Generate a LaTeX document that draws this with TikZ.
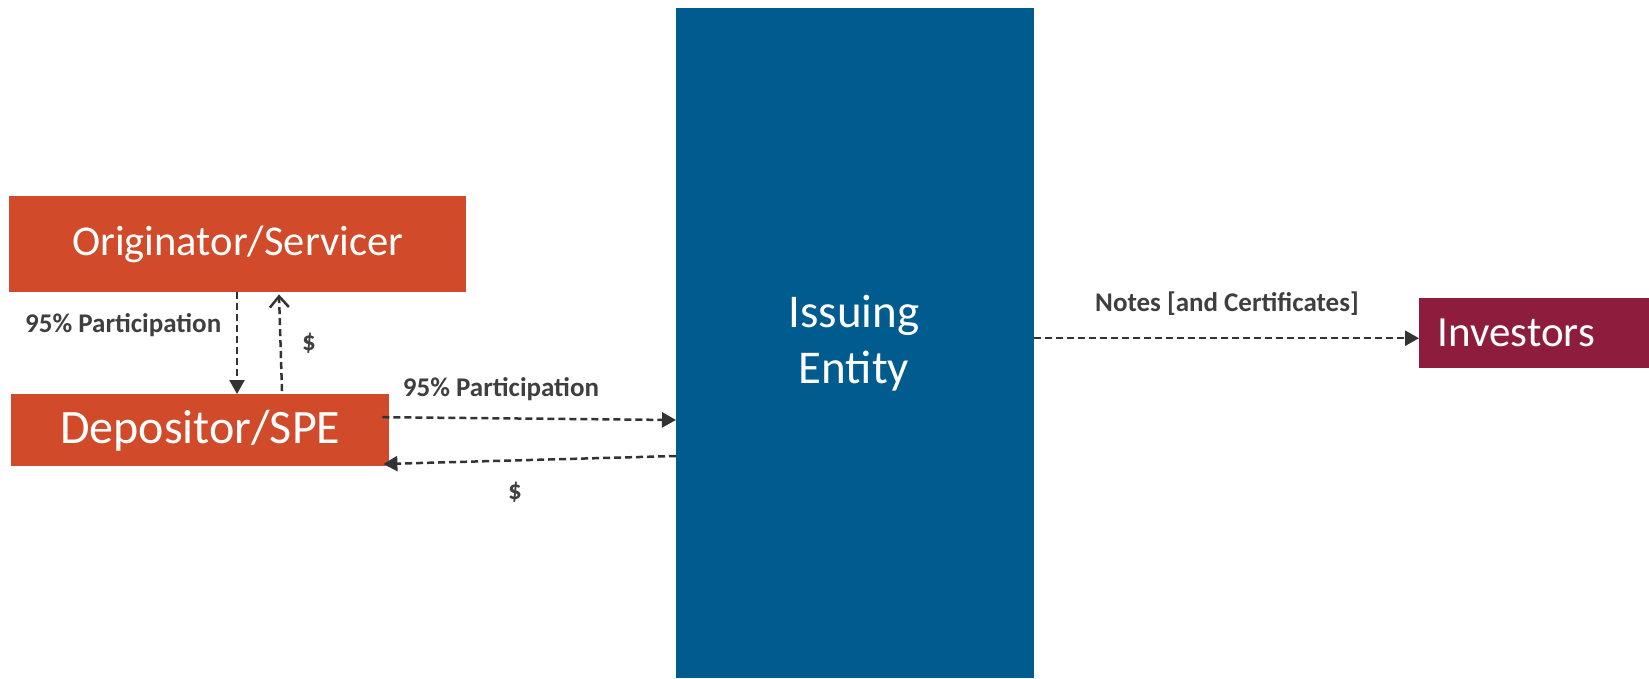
\documentclass[tikz,border=0pt]{standalone}
\usepackage{fontspec}
\setmainfont{Carlito}
\usetikzlibrary{arrows.meta,calc}
\definecolor{origc}{HTML}{D14A2A}
\definecolor{issuec}{HTML}{005B8F}
\definecolor{invc}{HTML}{8E1C3D}
\definecolor{lblc}{HTML}{3F3F3F}
\definecolor{arrc}{HTML}{333333}
\tikzset{
  box/.style={fill=#1, draw=none, text=white, inner sep=0pt, anchor=north west, align=center},
  lbl/.style={text=lblc, font=\fontsize{27}{32}\selectfont\bfseries, inner sep=0pt},
  arr/.style={draw=arrc, line width=2.5pt, dash pattern=on 7pt off 4pt, -{Triangle[length=14pt,width=15pt]}},
  arropen/.style={draw=arrc, line width=2.5pt, dash pattern=on 7pt off 4pt, -{Straight Barb[length=11pt,width=19pt,line width=2.5pt]}}
}
\begin{document}
\begin{tikzpicture}[x=1pt,y=-1pt]
\useasboundingbox (0,0) rectangle (1649,678);
\node[box=origc, minimum width=457pt, minimum height=96pt, font=\fontsize{42.5}{46}\selectfont] (orig) at (9,196) {Originator/Servicer};
\node[box=origc, minimum width=378pt, minimum height=72pt, font=\fontsize{48}{52}\selectfont] (dep) at (11,394) {Depositor/SPE};
\node[box=issuec, minimum width=358pt, minimum height=670pt] (iss) at (676,8) {};
\node[text=white, align=center, font=\fontsize{47}{56}\selectfont, inner sep=0pt] (isst) at (854,343) {Issuing\\Entity};
\node[box=invc, minimum width=230pt, minimum height=70pt, font=\fontsize{43}{46}\selectfont] (inv) at (1419,298) {Investors\hspace*{36pt}};

\coordinate (dn) at (237,0);
\draw[arr] (orig.south -| dn) -- (dep.north -| dn);
\draw[arropen] ([shift={(271,-3)}]dep.north west) -- ([shift={(270,2)}]orig.south west);
\node[lbl, anchor=west] (l1) at (25,325) {95\% Participation};
\node[lbl] (l2) at (309,343) {\$};

\draw[arr] ([shift={(-7,23-36)}]dep.east) -- ([shift={(0,412)}]iss.north west);
\draw[arr] ([shift={(0,448)}]iss.north west) -- ([shift={(-6,34+36)}]dep.north east);
\node[lbl] (l3) at (501,389) {95\% Participation};
\node[lbl] (l4) at (515,492) {\$};

\draw[arr] ([yshift=-5pt]iss.east |- inv.west) -- ([yshift=-5pt]inv.west);
\node[lbl] (l5) at (1227,304) {Notes [and Certificates]};
\end{tikzpicture}
\end{document}
